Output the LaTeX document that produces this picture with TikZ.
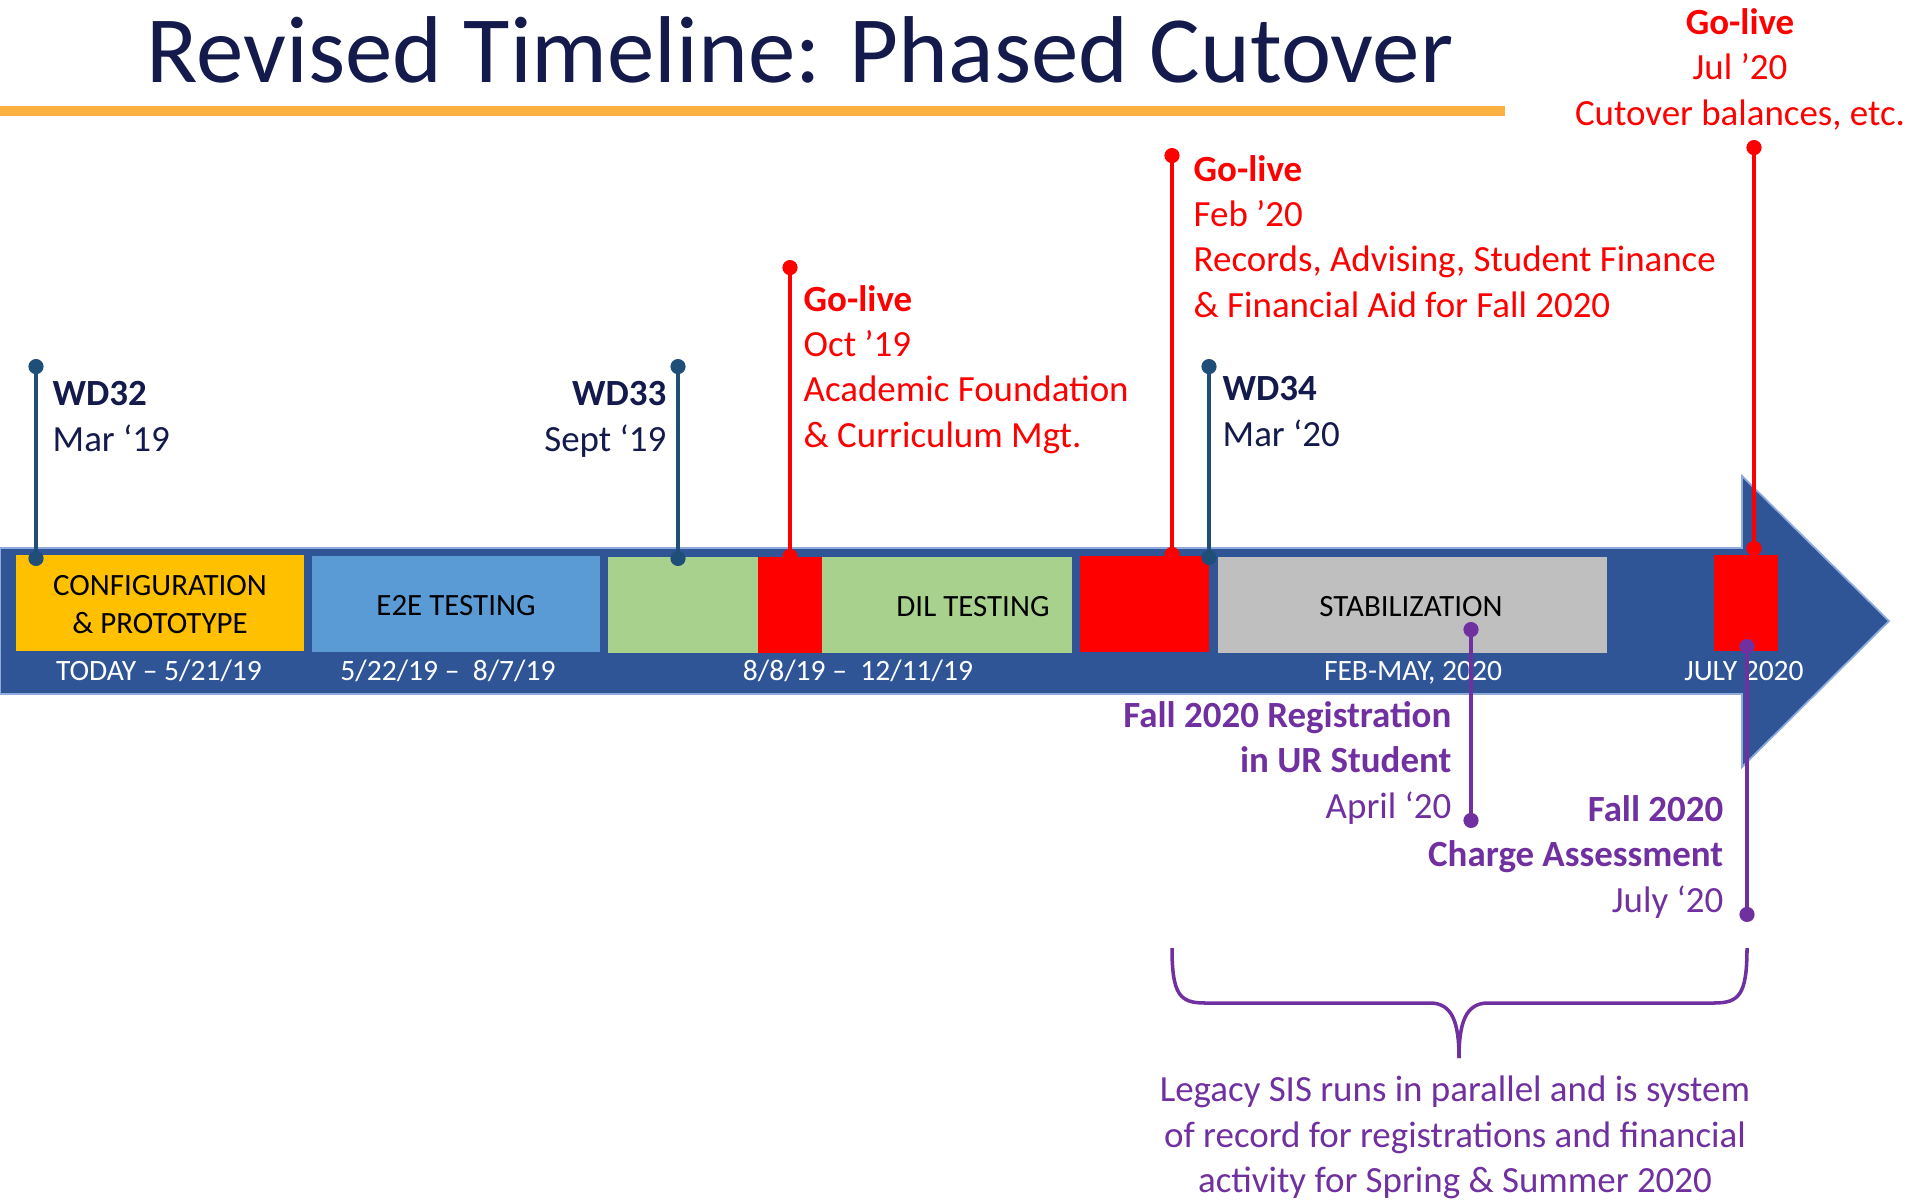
\documentclass[tikz,border=0pt]{standalone}
\usepackage{fontspec}
\setmainfont{Carlito}
\usetikzlibrary{arrows.meta}

\definecolor{titlenavy}{HTML}{141A4B}
\definecolor{barorange}{HTML}{FBB040}
\definecolor{bandblue}{HTML}{2F5597}
\definecolor{bandedge}{HTML}{8FAADC}
\definecolor{stemblue}{HTML}{1F4E79}
\definecolor{cfgyellow}{HTML}{FFC000}
\definecolor{e2eblue}{HTML}{5B9BD5}
\definecolor{dilgreen}{HTML}{A9D18E}
\definecolor{stabgray}{HTML}{BFBFBF}
\definecolor{golivered}{HTML}{FF0000}
\definecolor{fallpurple}{HTML}{7030A0}

\tikzset{
	stem/.style={line width=1pt, {Circle[length=4.3pt]}-{Circle[length=4.3pt]}},
	sidetext/.style={inner sep=0pt, font=\fontsize{10.5}{12.8}\selectfont},
	phaselabel/.style={inner sep=0pt, align=center, font=\fontsize{8.8}{10.8}\selectfont},
	datelabel/.style={inner sep=0pt, anchor=base, text=white, font=\fontsize{8.4}{10}\selectfont}
}

\begin{document}
\begin{tikzpicture}[x=0.01cm,y=-0.01cm]
	\useasboundingbox (0,0) rectangle (1915,1200);
	
	% title
	\node[inner sep=0pt, anchor=base, text=titlenavy, font=\fontsize{27}{30}\selectfont] (title) at (800,82) {Revised Timeline: Phased Cutover};
	\fill[barorange] (0,106) rectangle (1505,116);
	
	% arrow band
	\filldraw[fill=bandblue, draw=bandedge, line width=0.5pt] (0,548) -- (1742,548) -- (1742,476) -- (1889,621) -- (1742,767) -- (1742,694) -- (0,694) -- cycle;
	
	% phases
	\fill[cfgyellow] (16,555) rectangle (304,651);
	\fill[e2eblue] (312,556) rectangle (600,652);
	\fill[dilgreen] (608,557) rectangle (1072,653);
	\fill[golivered] (758,557) rectangle (822,653);
	\fill[golivered] (1080,556) rectangle (1209,652);
	\fill[stabgray] (1218,557) rectangle (1607,653);
	\fill[golivered] (1714,555) rectangle (1778,651);
	
	\node[phaselabel] (cfg) at (160,605) {CONFIGURATION\\\& PROTOTYPE};
	\node[phaselabel] (e2e) at (456,606) {E2E TESTING};
	\node[phaselabel] (dil) at (973,607) {DIL TESTING};
	\node[phaselabel] (stab) at (1411,607) {STABILIZATION};
	
	\node[datelabel] (d1) at (159,680) {TODAY -- 5/21/19};
	\node[datelabel] (d2) at (448,680) {5/22/19 --\ \ 8/7/19};
	\node[datelabel] (d3) at (858,680) {8/8/19 --\ \ 12/11/19};
	\node[datelabel] (d4) at (1413,680) {FEB-MAY, 2020};
	\node[datelabel] (d5) at (1744,680) {JULY 2020};
	
	% workday releases
	\coordinate (wd32top) at (36,359);
	\coordinate (wd32bot) at (36,566);
	\coordinate (wd33top) at (678,359);
	\coordinate (wd33bot) at (678,566);
	\coordinate (wd34top) at (1209,359);
	\coordinate (wd34bot) at (1209,565);
	\draw[stem, stemblue] (wd32top) -- (wd32bot);
	\draw[stem, stemblue] (wd33top) -- (wd33bot);
	\draw[stem, stemblue] (wd34top) -- (wd34bot);
	\node[sidetext, anchor=base west, align=left, text=titlenavy] (wd32) at (52,451) {\textbf{WD32}\\Mar ‘19};
	\node[sidetext, anchor=base east, align=right, text=titlenavy] (wd33) at (667,451) {\textbf{WD33}\\Sept ‘19};
	\node[sidetext, anchor=base west, align=left, text=titlenavy] (wd34) at (1222,446) {\textbf{WD34}\\Mar ‘20};
	
	% go-lives
	\coordinate (gl1top) at (790,260);
	\coordinate (gl1bot) at (790,564);
	\coordinate (gl2top) at (1172,148);
	\coordinate (gl2bot) at (1172,562);
	\coordinate (gl3top) at (1754,140);
	\coordinate (gl3bot) at (1754,556);
	\draw[stem, golivered] (gl1top) -- (gl1bot);
	\draw[stem, golivered] (gl2top) -- (gl2bot);
	\draw[stem, golivered] (gl3top) -- (gl3bot);
	\node[sidetext, anchor=base west, align=left, text=golivered] (gl1) at (803,447) {\textbf{Go-live}\\Oct ’19\\Academic Foundation\\\& Curriculum Mgt.};
	\node[sidetext, anchor=base west, align=left, text=golivered] (gl2) at (1193,317) {\textbf{Go-live}\\Feb ’20\\Records, Advising, Student Finance\\\& Financial Aid for Fall 2020};
	\node[sidetext, anchor=base, align=center, text=golivered] (gl3) at (1740,125) {\textbf{Go-live}\\Jul ’20\\Cutover balances, etc.};
	
	% fall 2020
	\coordinate (reg top) at (1471,622);
	\coordinate (reg bot) at (1471,828);
	\coordinate (chg top) at (1747,639);
	\coordinate (chg bot) at (1747,922);
	\draw[stem, fallpurple] (reg top) -- (reg bot);
	\draw[stem, fallpurple] (chg top) -- (chg bot);
	\node[sidetext, anchor=base east, align=right, text=fallpurple] (reg) at (1452,818) {\textbf{Fall 2020 Registration}\\\textbf{in UR Student}\\April ‘20};
	\node[sidetext, anchor=base east, align=right, text=fallpurple] (chg) at (1724,912) {\textbf{Fall 2020}\\\textbf{Charge Assessment}\\July ‘20};
	
	% legacy brace
	\draw[fallpurple, line width=1pt] (1172,948) .. controls (1172,995) and (1180,1003) .. (1205,1003) -- (1430,1003) .. controls (1452,1003) and (1459,1022) .. (1459,1058);
	\draw[fallpurple, line width=1pt] (1747,948) .. controls (1747,995) and (1739,1003) .. (1714,1003) -- (1488,1003) .. controls (1466,1003) and (1459,1022) .. (1459,1058);
	\node[sidetext, anchor=base, align=center, text=fallpurple] (legacy) at (1455,1192) {Legacy SIS runs in parallel and is system\\of record for registrations and financial\\activity for Spring \& Summer 2020};
\end{tikzpicture}
\end{document}
